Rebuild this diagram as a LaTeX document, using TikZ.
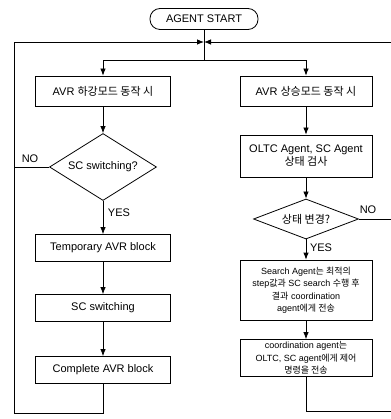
\documentclass[tikz,border=0pt]{standalone}
\usepackage{fontspec}
\setmainfont{Liberation Sans}
\newfontfamily\kr{Noto Sans CJK KR}
\usepackage{tikz}
\usetikzlibrary{shapes.geometric,arrows.meta}

\begin{document}
\begin{tikzpicture}[x=1pt,y=-1pt,>={Latex[length=7pt,width=5.5pt]},line width=0.8pt,
  font=\fontsize{11}{13}\selectfont,
  box/.style={draw,minimum width=135pt,minimum height=27pt,inner sep=2pt,align=center},
  dec/.style={diamond,draw,inner sep=0pt,aspect=1.6,align=center},
  small/.style={font=\fontsize{9}{12.5}\selectfont}]
\useasboundingbox (0,0) rectangle (390,419);
\node (0) at (204,19) [draw,rounded corners=10pt,minimum width=108pt,minimum height=21pt,inner sep=1pt] {AGENT START};
\coordinate (m) at (204,42);
\coordinate (s) at (204,60);
% left branch
\node (1) at (103,91) [box,minimum height=30pt] {AVR {\kr 하강모드 동작 시}};
\node (2) at (103,167) [dec,minimum width=107pt,minimum height=67pt] {SC switching?};
\node (3) at (103,248) [box] {Temporary AVR block};
\node (4) at (103,308) [box] {SC switching};
\node (5) at (103,370) [box] {Complete AVR block};
\node (n1) at (30,159) {NO};
\node (y1) at (119,213) {YES};
\coordinate (a) at (103,413);
\coordinate (b) at (14,413);
\coordinate (c) at (14,42);
\coordinate (n) at (14,167);
% right branch
\node (6) at (306,91) [box,minimum width=132pt,minimum height=30pt] {AVR {\kr 상승모드 동작 시}};
\node (7) at (306,156) [box,minimum width=132pt,minimum height=42pt] {OLTC Agent, SC Agent\\{\kr 상태 검사}};
\node (8) at (306,219) [dec,minimum width=105pt,minimum height=38pt] {{\kr 상태 변경?}};
\node (9) at (306,290) [box,small,minimum width=132pt,minimum height=60pt] {Search Agent{\kr 는 최적의}\\step{\kr 값과} SC search {\kr 수행 후}\\{\kr 결과} coordination\\agent{\kr 에게 전송}};
\node (10) at (306,358) [box,small,minimum width=132pt,minimum height=37pt] {coordination agent{\kr 는}\\OLTC, SC agent{\kr 에게 제어}\\{\kr 명령을 전송}};
\node (n2) at (368,210) {NO};
\node (y2) at (321,248) {YES};
\coordinate (d) at (306,411);
\coordinate (e) at (391,411);
\coordinate (f) at (391,42);
\coordinate (g) at (391,219);

\draw (0) -- (s);
\draw[->] (s) -| (1);
\draw[->] (s) -| (6);
\draw[->] (1) -- (2);
\draw[->] (2) -- (3);
\draw[->] (3) -- (4);
\draw[->] (4) -- (5);
\draw (2.west) -- (n);
\draw[->] (5) -- (a) -- (b) -- (c) -- (m);
\draw[->] (6) -- (7);
\draw[->] (7) -- (8);
\draw[->] (8) -- (9);
\draw[->] (9) -- (10);
\draw (8.east) -- (g);
\draw (10) -- (d) -- (e);
\draw[->] (f) -- (m);
\end{tikzpicture}
\end{document}
